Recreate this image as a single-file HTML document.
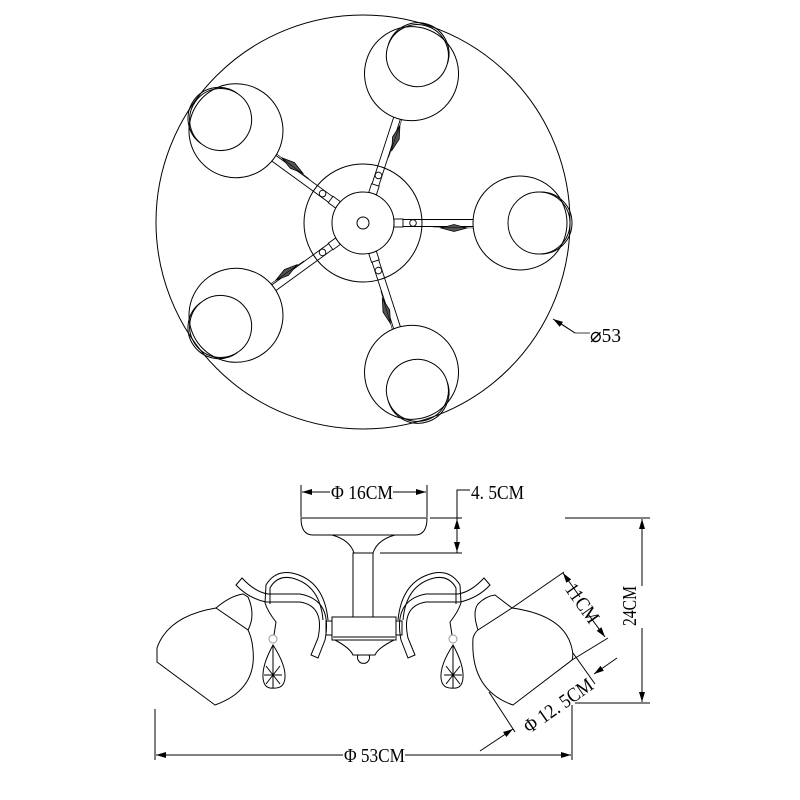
<!DOCTYPE html>
<html><head><meta charset="utf-8"><style>
html,body{margin:0;padding:0;background:#fff;}
svg{display:block;}
text{font-family:"Liberation Serif","DejaVu Serif",serif;fill:#000;}
</style></head><body>
<svg width="800" height="800" viewBox="0 0 800 800" xmlns="http://www.w3.org/2000/svg">
<defs>
<g id="arm">
  <line x1="31" y1="-3.5" x2="112" y2="-3.5" stroke="#000" stroke-width="0.9"/>
  <line x1="31" y1="3.5" x2="112" y2="3.5" stroke="#000" stroke-width="0.9"/>
  <rect x="31" y="-4" width="9" height="8" fill="#fff" stroke="#000" stroke-width="0.9"/>
  <circle cx="50" cy="0" r="3.3" fill="#fff" stroke="#000" stroke-width="0.9"/>
  <path d="M78,5 L91,1.5 L104,5 L91,8.5 Z" fill="#555" stroke="#000" stroke-width="0.8"/>
  <line x1="70" y1="4" x2="110" y2="5" stroke="#000" stroke-width="0.6"/>
  <circle cx="157" cy="0" r="47" fill="#fff" stroke="#000" stroke-width="1"/>
  <circle cx="176" cy="0" r="31" fill="none" stroke="#000" stroke-width="1"/>
  <path d="M176,-31 A31,31 0 0 1 176,31" fill="none" stroke="#000" stroke-width="1" transform="translate(2,0)"/>
</g>
<marker id="ah" viewBox="0 0 10 6" refX="10" refY="3" markerWidth="10" markerHeight="6" orient="auto-start-reverse" markerUnits="userSpaceOnUse">
  <path d="M0,0 L10,3 L0,6 Z" fill="#000"/>
</marker>
</defs>

<!-- TOP VIEW -->
<circle cx="363" cy="222" r="207" fill="none" stroke="#000" stroke-width="1"/>
<circle cx="363" cy="223" r="59" fill="none" stroke="#000" stroke-width="1"/>
<g transform="translate(363,223)">
  <use href="#arm" transform="rotate(0)"/>
  <use href="#arm" transform="rotate(-72)"/>
  <use href="#arm" transform="rotate(-144)"/>
  <use href="#arm" transform="rotate(144)"/>
  <use href="#arm" transform="rotate(72)"/>
</g>
<circle cx="363" cy="223" r="31" fill="#fff" stroke="#000" stroke-width="1"/>
<circle cx="363" cy="223" r="6" fill="none" stroke="#000" stroke-width="1"/>
<polyline points="560,323 575,333 590,333" fill="none" stroke="#000" stroke-width="0.8"/>
<line x1="575" y1="333" x2="553" y2="319" stroke="#000" stroke-width="0.8" marker-end="url(#ah)"/>
<text x="590" y="342" font-size="20" textLength="31" lengthAdjust="spacingAndGlyphs">⌀53</text>

<!-- SIDE VIEW -->
<g fill="none" stroke="#000" stroke-width="1">
  <line x1="301" y1="485" x2="301" y2="517"/>
  <line x1="427" y1="485" x2="427" y2="517"/>
  <line x1="302" y1="492" x2="330" y2="492" marker-start="url(#ah)"/>
  <line x1="393" y1="492" x2="426" y2="492" marker-end="url(#ah)"/>
  <path d="M301,518 L427,518 Q427,535 415,535 L313,535 Q301,535 301,518 Z"/>
  <path d="M332,535 Q350,540 354,553 L373,553 Q377,540 395,535"/>
  <rect x="353" y="553" width="20" height="64"/>
  <line x1="430" y1="518" x2="462" y2="518"/>
  <line x1="380" y1="553" x2="462" y2="553"/>
  <polyline points="470,490 457,490 457,553"/>
  <line x1="457" y1="535" x2="457" y2="519" marker-end="url(#ah)"/>
  <line x1="457" y1="536" x2="457" y2="552" marker-end="url(#ah)"/>
  <rect x="332" y="617" width="64" height="23"/>
  <line x1="333" y1="637" x2="395" y2="637"/>
  <rect x="326" y="621" width="6" height="14"/>
  <rect x="396" y="621" width="6" height="14"/>
  <path d="M335,640 Q350,648 353,655 L375,655 Q378,648 394,640"/>
  <path d="M358,655 A6,6 0 1 0 369,655"/>
  <path d="M236,585 L242,578 Q255,592 268,594 L300,594 Q333,600 325,640 L318,658 L311,655 L318,638 Q325,606 300,602 L266,602 Q248,598 236,585 Z"/>
  <path d="M265,603 L266,585 Q275,570 292,573 Q324,580 328,620 M270,604 L270,588 Q277,575 292,578 Q320,585 323,620"/>
  <path d="M265,603 Q268,612 276,622 L274,635"/>
  <circle cx="273" cy="639" r="4" stroke="#999"/>
  <path d="M273,645 Q262,665 263,678 Q264,689 273,688 Q284,689 285,678 Q286,665 273,645 Z M273,645 L273,688 M264,675 L282,675 M266,666 L280,684 M280,666 L266,684"/>
  <g transform="translate(726,0) scale(-1,1)">
    <path d="M236,585 L242,578 Q255,592 268,594 L300,594 Q333,600 325,640 L318,658 L311,655 L318,638 Q325,606 300,602 L266,602 Q248,598 236,585 Z"/>
    <path d="M265,603 L266,585 Q275,570 292,573 Q324,580 328,620 M270,604 L270,588 Q277,575 292,578 Q320,585 323,620"/>
    <path d="M265,603 Q268,612 276,622 L274,635"/>
    <circle cx="273" cy="639" r="4" stroke="#999"/>
    <path d="M273,645 Q262,665 263,678 Q264,689 273,688 Q284,689 285,678 Q286,665 273,645 Z M273,645 L273,688 M264,675 L282,675 M266,666 L280,684 M280,666 L266,684"/>
  </g>
  <path d="M216,608 Q168,616 157,648 L157,662 L215,705 Q257,690 253,650 Q252,638 248,630 Z" fill="#fff"/>
  <path d="M216,608 Q230,596 243,594 L248,597 Q256,615 248,630"/>
  <path d="M512,608 Q562,615 571,645 Q574,655 572,660 L513,705 Q470,690 473,638 Q475,632 478,630 Z" fill="#fff"/>
  <path d="M478,630 Q472,612 478,604 Q486,596 495,595 L512,608"/>
  <line x1="512" y1="608" x2="564" y2="572"/>
  <line x1="572" y1="660" x2="608" y2="638"/>
  <line x1="580" y1="597" x2="563" y2="573" marker-end="url(#ah)"/>
  <line x1="588" y1="614" x2="605" y2="637" marker-end="url(#ah)"/>
  <line x1="489" y1="692" x2="515" y2="732"/>
  <line x1="573" y1="653" x2="595" y2="684"/>
  <line x1="480" y1="751" x2="513" y2="729" marker-end="url(#ah)"/>
  <line x1="617" y1="658" x2="594" y2="674" marker-end="url(#ah)"/>
  <line x1="565" y1="518" x2="650" y2="518"/>
  <line x1="575" y1="703" x2="650" y2="703"/>
  <line x1="642" y1="586" x2="642" y2="519" marker-end="url(#ah)"/>
  <line x1="642" y1="628" x2="642" y2="702" marker-end="url(#ah)"/>
  <line x1="155" y1="709" x2="155" y2="760"/>
  <line x1="572" y1="705" x2="572" y2="760"/>
  <line x1="156" y1="755" x2="343" y2="755" marker-start="url(#ah)"/>
  <line x1="405" y1="755" x2="571" y2="755" marker-end="url(#ah)"/>
</g>
<text x="331" y="499" font-size="20" textLength="62" lengthAdjust="spacingAndGlyphs">Φ 16CM</text>
<text x="471" y="499" font-size="20" textLength="53" lengthAdjust="spacingAndGlyphs">4. 5CM</text>
<text x="344" y="762" font-size="20" textLength="61" lengthAdjust="spacingAndGlyphs">Φ 53CM</text>
<text transform="translate(636,606) rotate(-90)" text-anchor="middle" font-size="20" textLength="40" lengthAdjust="spacingAndGlyphs">24CM</text>
<text transform="translate(577,607) rotate(55)" text-anchor="middle" font-size="20" textLength="44" lengthAdjust="spacingAndGlyphs">11CM</text>
<text transform="translate(562,711) rotate(-35)" text-anchor="middle" font-size="20" textLength="80" lengthAdjust="spacingAndGlyphs">Φ 12. 5CM</text>
</svg>
</body></html>
